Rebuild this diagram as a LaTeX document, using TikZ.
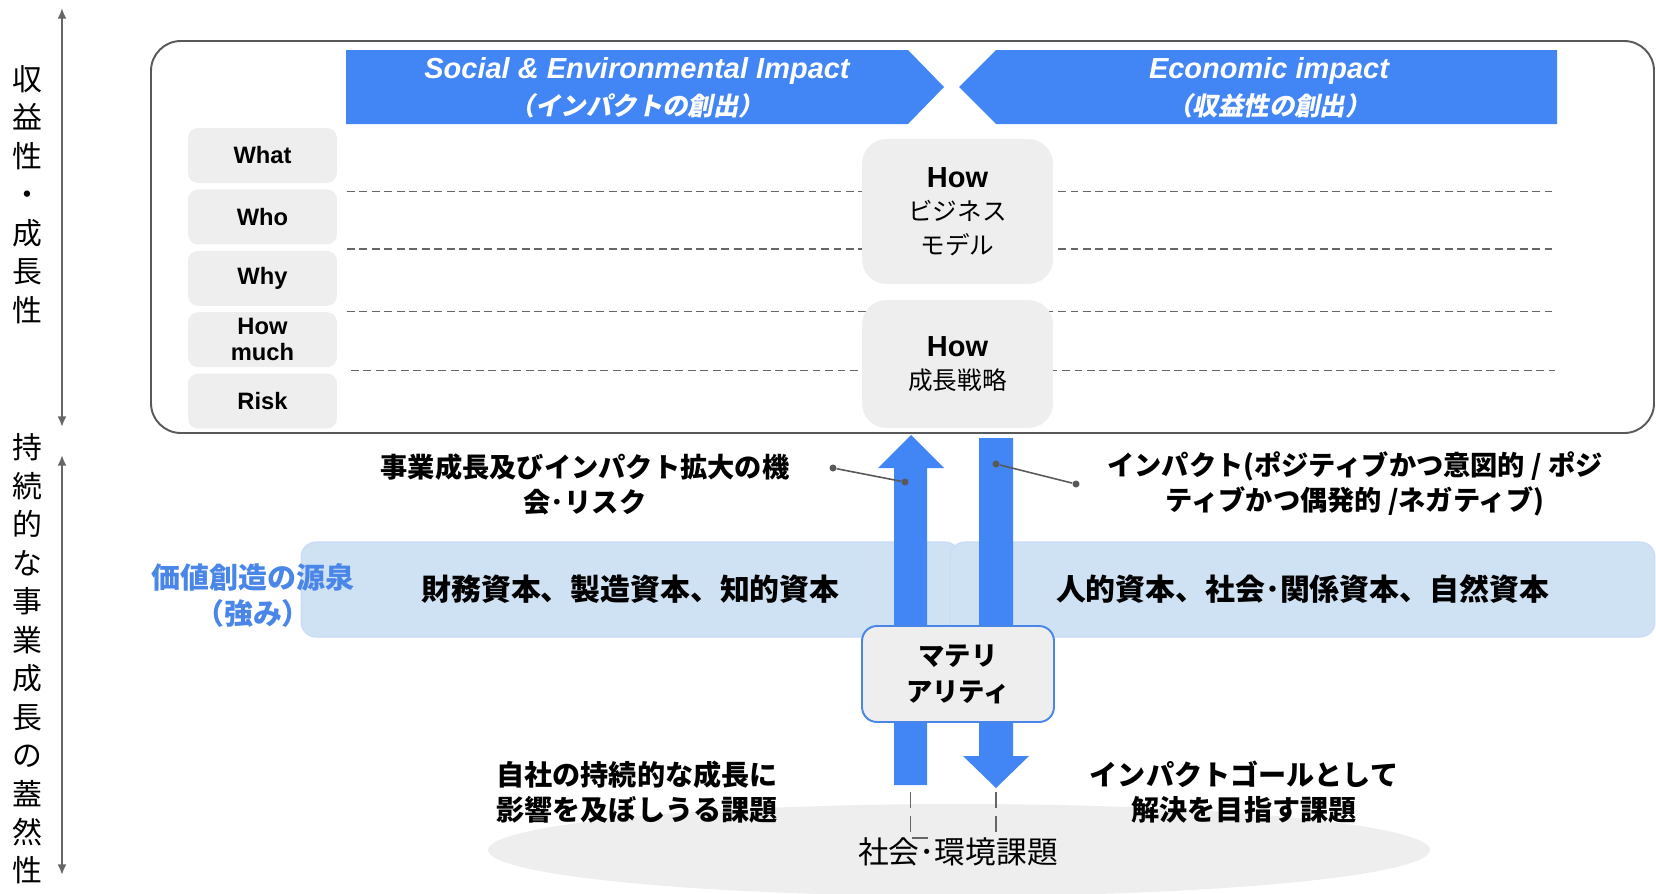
\documentclass[tikz,border=0pt]{standalone}
\usepackage{fontspec}
\setmainfont{Liberation Sans}
\newfontfamily\jp{Noto Sans CJK JP}
\newfontfamily\jpsl[FakeSlant=0.2]{Noto Sans CJK JP}
\usetikzlibrary{arrows.meta}
\definecolor{gblue}{HTML}{4285F4}
\definecolor{srcblue}{HTML}{4A86E8}
\definecolor{cellgray}{HTML}{EEEEEE}
\definecolor{bandblue}{HTML}{CFE2F3}
\definecolor{bandline}{HTML}{C9DAF8}
\definecolor{linegray}{HTML}{666666}
\definecolor{boxgray}{HTML}{595959}
\tikzset{
	cell/.style={fill=cellgray, rounded corners=5.7pt, minimum width=2.98cm, minimum height=1.1cm,
		inner sep=0pt, align=center, font=\bfseries\fontsize{13.5}{15}\selectfont},
	howbox/.style={fill=cellgray, rounded corners=14pt, minimum width=3.82cm, inner sep=0pt,
		align=center, font=\jp\fontsize{14}{19}\selectfont},
	matbox/.style={fill=cellgray, draw=srcblue, line width=1.1pt, rounded corners=8.5pt,
		minimum width=3.84cm, minimum height=1.92cm, inner sep=0pt, align=center,
		font=\jp\bfseries\fontsize{15}{20.5}\selectfont},
	band/.style={fill=bandblue, draw=bandline, line width=0.6pt, rounded corners=8.5pt,
		minimum height=1.9cm, inner sep=0pt, font=\jp\bfseries\fontsize{17}{20}\selectfont},
	sep/.style={draw=linegray, line width=0.85pt, dash pattern=on 4.5pt off 2.6pt},
	drop/.style={draw=linegray, line width=1.1pt, dash pattern=on 9pt off 4.5pt},
	jpb/.style={align=center, font=\jp\bfseries\fontsize{16}{20}\selectfont},
	vlabel/.style={align=center, font=\jp\fontsize{17}{21.9}\selectfont},
	dot/.style={circle, fill=boxgray, inner sep=0pt, minimum size=4pt},
	callout/.style={draw=boxgray, line width=0.9pt},
}
\begin{document}
\begin{tikzpicture}[x=0.02cm, y=-0.02cm, >={Latex[length=6pt,width=5pt]}]
	\useasboundingbox (0,0) rectangle (1656,893);
	\fill[cellgray] (959,850) ellipse [x radius=471, y radius=46];

	% axes on the left
	\coordinate (p1) at (62,8);
	\coordinate (p2) at (62,427);
	\coordinate (s1) at (62,455);
	\coordinate (s2) at (62,875);
	\draw[<->, line width=1.1pt, linegray] (p1) -- (p2);
	\draw[<->, line width=1.1pt, linegray] (s1) -- (s2);
	\node[vlabel] (prof) at (27,194.5) {収\\益\\性\\・\\成\\長\\性};
	\node[vlabel] (sust) at (27,659) {持\\続\\的\\な\\事\\業\\成\\長\\の\\蓋\\然\\性};

	\draw[boxgray, line width=1.1pt, rounded corners=17pt] (151,41) rectangle (1654,433);

	% headers
	\fill[gblue] (346,50) -- (908,50) -- (944,87) -- (908,124) -- (346,124) -- cycle;
	\fill[gblue] (959,87) -- (996,50) -- (1557,50) -- (1557,124) -- (996,124) -- cycle;
	\node[text=white, font=\bfseries\itshape\fontsize{16.5}{18}\selectfont] (se) at (637,71) {Social \& Environmental Impact};
	\node[text=white, font=\jpsl\bfseries\fontsize{14.5}{16}\selectfont] (sej) at (637,106) {（インパクトの創出）};
	\node[text=white, font=\bfseries\itshape\fontsize{16.5}{18}\selectfont] (ec) at (1269,71) {Economic impact};
	\node[text=white, font=\jpsl\bfseries\fontsize{14.5}{16}\selectfont] (ecj) at (1269,106) {（収益性の創出）};

	\foreach \y/\x in {191.7/347, 249/347, 311.7/347, 370.7/351}
	\draw[sep] (\x,\y) -- (1555,\y);

	\foreach \i/\t in {0/What,1/Who,2/Why,3/How\\much,4/Risk}
	\node[cell] (q\i) at (262.5,{155.5+61.4*\i}) {\t};

	\node[howbox, minimum height=2.9cm] (bm) at (957.5,211.5)
		{{\rmfamily\bfseries\fontsize{16.5}{19}\selectfont How}\\ビジネス\\モデル};
	\node[howbox, minimum height=2.56cm] (gs) at (957.5,364)
		{{\rmfamily\bfseries\fontsize{16.5}{19}\selectfont How}\\成長戦略};

	% capitals
	\node[band, minimum width=13.18cm] (fin) at (630.5,589.5) {財務資本、製造資本、知的資本};
	\node[band, minimum width=14.1cm] (hum) at (1302.5,589.5) {人的資本、社会･関係資本、自然資本};
	\node[jpb, text=srcblue, font=\jp\bfseries\fontsize{16.5}{20.5}\selectfont] (src) at (253,595) {価値創造の源泉\\（強み）};

	% up / down arrows
	\fill[gblue] (894,785) -- (894,468) -- (878,468) -- (911,435) -- (944,468) -- (927,468) -- (927,785) -- cycle;
	\fill[gblue] (979,438) -- (1013,438) -- (1013,756) -- (1029,756) -- (996,788) -- (963,756) -- (979,756) -- cycle;

	\node[matbox] (mat) at (958,674) {マテリ\\アリティ};

	\node[dot] (c1) at (833,468) {};
	\node[dot] (c2) at (905,482) {};
	\node[dot] (c3) at (996,464) {};
	\node[dot] (c4) at (1076,484) {};
	\draw[callout] (c1) -- (c2);
	\draw[callout] (c3) -- (c4);

	\node[jpb, font=\jp\bfseries\fontsize{15.5}{20}\selectfont] (opp) at (585,484) {事業成長及びインパクト拡大の機\\会･リスク};
	\node[jpb, font=\jp\bfseries\fontsize{15.5}{20}\selectfont] (imp) at (1355,484) {インパクト(ポジティブかつ意図的 / ポジ\\ティブかつ偶発的 /ネガティブ)};
	\node[jpb] (own) at (637,792) {自社の持続的な成長に\\影響を及ぼしうる課題};
	\node[jpb] (goal) at (1244,792) {インパクトゴールとして\\解決を目指す課題};

	\coordinate (ub) at (910.5,792);
	\coordinate (uc) at (935,838);
	\coordinate (db) at (996,792);
	\coordinate (dc) at (996,836);
	\draw[drop] (ub) |- (uc);
	\draw[drop] (db) -- (dc);
	\node[font=\jp\fontsize{17.5}{20}\selectfont] (issue) at (958,852) {社会･環境課題};
\end{tikzpicture}
\end{document}
